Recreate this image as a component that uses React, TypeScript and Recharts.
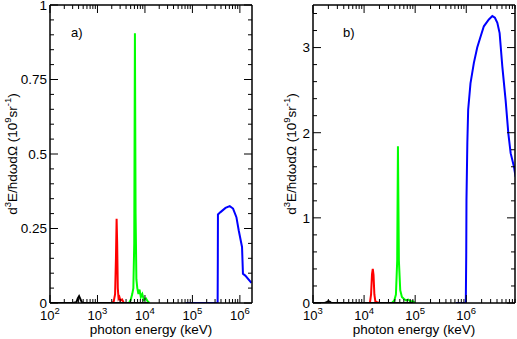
import React from "react"
import { LineChart, Line, XAxis, YAxis } from "recharts"

const FONT = '"Liberation Sans", Arial, Helvetica, sans-serif'

// panel a) spectra, [photon energy keV, d3E/hdwdO]
const blackA: [number, number][] = [
  [100, 0], [300, 0], [360, 0.003], [385, 0.015], [410, 0.023], [440, 0.012], [470, 0.002], [520, 0], [2000, 0], [12000, 0],
]
const redA: [number, number][] = [
  [1000, 0], [2000, 0], [2200, 0.005], [2350, 0.03], [2450, 0.15], [2530, 0.283], [2600, 0.2], [2680, 0.05],
  [2780, 0.015], [2900, 0.02], [3050, 0.008], [3300, 0.012], [3600, 0], [5000, 0],
]
const greenA: [number, number][] = [
  [3000, 0], [4600, 0], [5000, 0.01], [5400, 0.03], [5700, 0.05], [5950, 0.2], [6150, 0.905], [6350, 0.3],
  [6600, 0.08], [6900, 0.05], [7300, 0.03], [7700, 0.045], [8200, 0.02], [8800, 0.03], [9500, 0.01],
  [10500, 0.015], [11500, 0.005], [12500, 0],
]
const blueA: [number, number][] = [
  [7.2e4, 0], [3.4e5, 0], [3.43e5, 0.15], [3.45e5, 0.297], [3.91e5, 0.305], [4.98e5, 0.319], [6.12e5, 0.325],
  [7.18e5, 0.317], [8.45e5, 0.288], [9.44e5, 0.244], [1.11e6, 0.188], [1.16e6, 0.098], [1.3e6, 0.092], [1.75e6, 0.068],
]

// panel b)
const blackB: [number, number][] = [
  [1000, 0], [1700, 0], [1850, 0.01], [2000, 0.022], [2150, 0.012], [2300, 0], [10000, 0], [90000, 0],
]
const redB: [number, number][] = [
  [5000, 0], [1.3e4, 0], [1.37e4, 0.1], [1.43e4, 0.34], [1.48e4, 0.4], [1.53e4, 0.33], [1.59e4, 0.1],
  [1.66e4, 0.02], [1.8e4, 0.01], [2e4, 0], [3e4, 0],
]
const greenB: [number, number][] = [
  [2e4, 0], [3.5e4, 0], [3.9e4, 0.03], [4.2e4, 0.1], [4.45e4, 0.5], [4.6e4, 1.84], [4.8e4, 0.5], [5.1e4, 0.15],
  [5.5e4, 0.07], [6e4, 0.05], [6.6e4, 0.03], [7.3e4, 0.04], [8e4, 0.02], [9e4, 0.02], [1e5, 0],
]
const blueB: [number, number][] = [
  [6.3e5, 0], [9.8e5, 0], [1.0e6, 0.6], [1.01e6, 1.21], [1.05e6, 1.88], [1.09e6, 2.27], [1.21e6, 2.58],
  [1.41e6, 2.82], [1.64e6, 3.0], [1.91e6, 3.13], [2.21e6, 3.25], [2.77e6, 3.33], [3.24e6, 3.37], [3.64e6, 3.35],
  [4.06e6, 3.29], [4.5e6, 3.17], [5.08e6, 2.78], [5.9e6, 2.38], [6.67e6, 1.99], [7.4e6, 1.76], [8.59e6, 1.6],
  [9.27e6, 1.48],
]

// axes
const decadesA = [100, 1000, 1e4, 1e5, 1e6]
const decadesB = [1000, 1e4, 1e5, 1e6]
const xDomainA: [number, number] = [100, 1.8e6]
const xDomainB: [number, number] = [1000, 9e6]
const yLabelsA = [0, 0.25, 0.5, 0.75, 1]
const yLabelsB = [0, 1, 2, 3]
const yMinorStepA = 0.05
const yMinorStepB = 0.2

const logTicks = (decades: number[], max: number) =>
  decades.flatMap(d => [1, 2, 3, 4, 5, 6, 7, 8, 9].map(k => k * d)).filter(v => v <= max)
const linTicks = (step: number, max: number) => {
  const out: number[] = []
  for (let i = 0; i * step <= max + 1e-9; i++) out.push(Math.round(i * step * 1000) / 1000)
  return out
}

const toRows = (pts: [number, number][]) => pts.map(([e, v]) => ({ e, v }))

function XTick(props: any) {
  const { x, y, payload, top } = props
  const lg = Math.log10(payload.value)
  const major = Math.abs(lg - Math.round(lg)) < 1e-6
  const len = major ? 8 : 4
  const dir = top ? 1 : -1
  return (
    <g>
      <line x1={x} x2={x} y1={y} y2={y + dir * len} stroke="#000" strokeWidth={1} />
      {!top && major && (
        <text x={x} y={y + 17} textAnchor="middle" fontSize={13} fontFamily={FONT} fill="#000">
          10<tspan dy={-6} fontSize={9.5}>{Math.round(lg)}</tspan>
        </text>
      )}
    </g>
  )
}

function YTick(props: any) {
  const { x, y, payload, right, labels } = props
  const v = payload.value
  const major = labels.some((l: number) => Math.abs(l - v) < 1e-6)
  const len = major ? 8 : 4
  const dir = right ? -1 : 1
  return (
    <g>
      <line x1={x} x2={x + dir * len} y1={y} y2={y} stroke="#000" strokeWidth={1} />
      {!right && major && (
        <text x={x - 3} y={y} dy="0.36em" textAnchor="end" fontSize={13.5} fontFamily={FONT} fill="#000">
          {String(v)}
        </text>
      )}
    </g>
  )
}

const frame = { stroke: "#000", strokeWidth: 1.5 }

function Panel({ width, yAxisWidth, rightMargin, xDomain, xTicks, yDomain, yTicks, yLabels, series }: any) {
  return (
    <LineChart width={width} height={339} margin={{ top: 4, right: rightMargin, bottom: 0, left: 0 }}>
      <XAxis xAxisId="b" dataKey="e" type="number" scale="log" domain={xDomain} allowDataOverflow
        ticks={xTicks} interval={0} tickSize={0} tickMargin={0} tickLine={false} tick={<XTick />}
        height={36} axisLine={frame} />
      <XAxis xAxisId="t" orientation="top" dataKey="e" type="number" scale="log" domain={xDomain} allowDataOverflow
        ticks={xTicks} interval={0} tickSize={0} tickMargin={0} tickLine={false} tick={<XTick top />}
        height={1} axisLine={frame} />
      <YAxis yAxisId="l" type="number" domain={yDomain} allowDataOverflow ticks={yTicks} interval={0}
        tickSize={0} tickMargin={0} tickLine={false} tick={<YTick labels={yLabels} />}
        width={yAxisWidth} axisLine={frame} />
      <YAxis yAxisId="r" orientation="right" type="number" domain={yDomain} allowDataOverflow ticks={yTicks}
        interval={0} tickSize={0} tickMargin={0} tickLine={false} tick={<YTick right labels={yLabels} />}
        width={1} axisLine={frame} />
      {series.map((s: any, i: number) => (
        <Line key={i} xAxisId="b" yAxisId="l" data={toRows(s.pts)} dataKey="v" type="linear" stroke={s.color}
          strokeWidth={2} dot={false} isAnimationActive={false} />
      ))}
    </LineChart>
  )
}

function YTitle({ x, y }: { x: number; y: number }) {
  return (
    <text transform={`translate(${x},${y}) rotate(-90)`} textAnchor="middle" fontSize={13.5} fontFamily={FONT} fill="#000">
      d<tspan dy={-6} fontSize={9.5}>3</tspan>
      <tspan dy={6}>E/ħdωdΩ (10</tspan>
      <tspan dy={-6} fontSize={9.5}>9</tspan>
      <tspan dy={6}>sr</tspan>
      <tspan dy={-6} fontSize={9.5}>-1</tspan>
      <tspan dy={6}>)</tspan>
    </text>
  )
}

export default function App() {
  return (
    <div style={{ position: "absolute", left: 0, top: 0, width: 517, height: 339, background: "#fff" }}>
      <div style={{ position: "absolute", left: 0, top: 0 }}>
        <Panel width={260} yAxisWidth={50} rightMargin={7} xDomain={xDomainA}
          xTicks={logTicks(decadesA, xDomainA[1])} yDomain={[0, 1]} yTicks={linTicks(yMinorStepA, 1)} yLabels={yLabelsA}
          series={[
            { pts: blueA, color: "#0000ff" },
            { pts: greenA, color: "#00ff00" },
            { pts: redA, color: "#ff0000" },
            { pts: blackA, color: "#000000" },
          ]} />
      </div>
      <div style={{ position: "absolute", left: 260, top: 0 }}>
        <Panel width={257} yAxisWidth={53} rightMargin={1} xDomain={xDomainB}
          xTicks={logTicks(decadesB, xDomainB[1])} yDomain={[0, 3.5]} yTicks={linTicks(yMinorStepB, 3.4)} yLabels={yLabelsB}
          series={[
            { pts: blueB, color: "#0000ff" },
            { pts: greenB, color: "#00ff00" },
            { pts: redB, color: "#ff0000" },
            { pts: blackB, color: "#000000" },
          ]} />
      </div>
      <svg width={517} height={339} style={{ position: "absolute", left: 0, top: 0, pointerEvents: "none" }}>
        <YTitle x={17} y={154} />
        <YTitle x={296} y={154} />
        <text x={151} y={334} textAnchor="middle" fontSize={13.5} fontFamily={FONT} fill="#000">photon energy (keV)</text>
        <text x={414} y={334} textAnchor="middle" fontSize={13.5} fontFamily={FONT} fill="#000">photon energy (keV)</text>
        <text x={71} y={37} fontSize={13} fontFamily={FONT} fill="#000">a)</text>
        <text x={343} y={37} fontSize={13} fontFamily={FONT} fill="#000">b)</text>
      </svg>
    </div>
  )
}
